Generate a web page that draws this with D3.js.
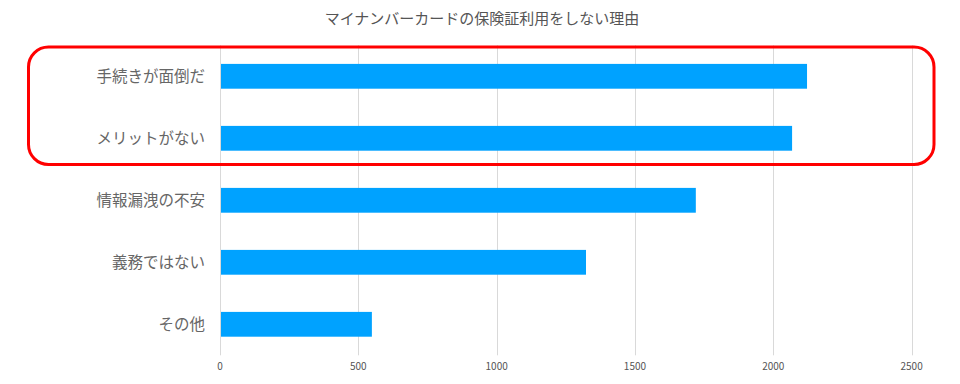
<!DOCTYPE html>
<html>
<head>
<meta charset="utf-8">
<script src="https://cdn.jsdelivr.net/npm/d3@7"></script>
<style>
    body { margin: 0; background: #fff; }
    svg { display: block; font-family: "Noto Sans CJK JP", "Noto Sans", sans-serif; }
</style>
</head>
<body>
<div id="chart"></div>
<script>
var title = "マイナンバーカードの保険証利用をしない理由";
var categories = ["手続きが面倒だ", "メリットがない", "情報漏洩の不安", "義務ではない", "その他"];
var values = [2122, 2068, 1720, 1323, 549];
var ticks = [0, 500, 1000, 1500, 2000, 2500];

var w = 960, h = 384;
// plot area (note: "top" is taken by window.top, so use other names)
var plotLeft = 220, plotRight = 911.6, plotTop = 45.3, plotBottom = 355.3;

var svg = d3.select("#chart").append("svg")
    .attr("width", w)
    .attr("height", h);

var x = d3.scaleLinear().domain([0, 2500]).range([plotLeft, plotRight]);
var y = d3.scaleBand().domain(categories).range([plotTop, plotBottom])
    .paddingInner(0.6)
    .paddingOuter(0.3);

// title
svg.append("text")
    .attr("x", 482)
    .attr("y", 24)
    .attr("text-anchor", "middle")
    .style("font-size", "15px")
    .style("fill", "#555")
    .text(title);

// gridlines
svg.selectAll(".grid")
    .data(ticks)
    .enter()
    .append("line")
    .attr("x1", function (d) { return Math.round(x(d)) + 0.5; })
    .attr("x2", function (d) { return Math.round(x(d)) + 0.5; })
    .attr("y1", plotTop)
    .attr("y2", plotBottom)
    .style("stroke", "#d9d9d9")
    .style("stroke-width", 1);

// tick labels
svg.selectAll(".tick-label")
    .data(ticks)
    .enter()
    .append("text")
    .attr("x", function (d) { return x(d); })
    .attr("y", 370)
    .attr("text-anchor", "middle")
    .style("font-size", "10px")
    .style("fill", "#555")
    .text(function (d) { return d; });

// bars
svg.selectAll(".bar")
    .data(values)
    .enter()
    .append("rect")
    .attr("x", x(0) + 1)
    .attr("y", function (d, i) { return y(categories[i]); })
    .attr("width", function (d) { return x(d) - x(0) - 1; })
    .attr("height", y.bandwidth())
    .style("fill", "#00a2ff");

// category labels
svg.selectAll(".cat")
    .data(categories)
    .enter()
    .append("text")
    .attr("x", 205)
    .attr("y", function (d) { return y(d) + y.bandwidth() / 2; })
    .attr("dy", "0.35em")
    .attr("text-anchor", "end")
    .style("font-size", "15.5px")
    .style("fill", "#666")
    .text(function (d) { return d; });

// highlight box round the first two bars
svg.append("rect")
    .attr("x", 28.5)
    .attr("y", 47)
    .attr("width", 905.5)
    .attr("height", 117.5)
    .attr("rx", 20)
    .style("fill", "none")
    .style("stroke", "#ff0000")
    .style("stroke-width", 3);
</script>
</body>
</html>
